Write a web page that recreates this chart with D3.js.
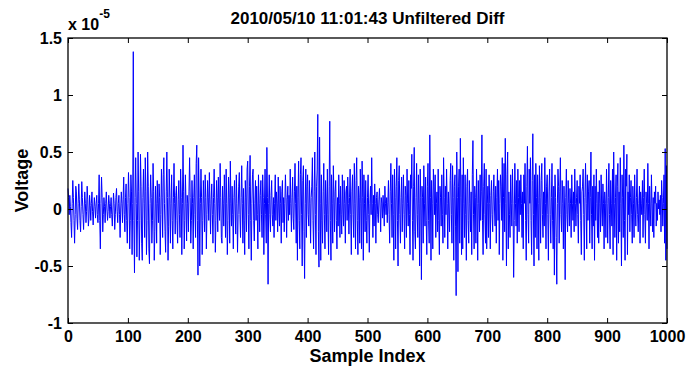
<!DOCTYPE html>
<html>
<head>
<meta charset="utf-8">
<script src="https://cdn.jsdelivr.net/npm/d3@7"></script>
<style>
  body { margin: 0; background: #fff; }
  svg { display: block; }
  text { font-family: "Liberation Sans", Arial, sans-serif; fill: #000; }
</style>
</head>
<body>
<div id="app"></div>
<script>
const W = 690, H = 374;

const titleText = '2010/05/10 11:01:43 Unfiltered Diff';
const xLabel = 'Sample Index';
const yLabel = 'Voltage';
const xTicks = [0, 100, 200, 300, 400, 500, 600, 700, 800, 900, 1000];
const yTicks = [-1, -0.5, 0, 0.5, 1, 1.5];

// voltage, in units of 1e-5, sample 0..1000
const voltage = [
  0.18, 0.10, -0.05, 0.12, 0.02, -0.12, -0.25, 0.05, 0.25, 0.10, -0.10, -0.30, -0.05, 0.20, 0.15, -0.08, -0.18, 0.05, 0.22, 0.08,
  -0.10, -0.20, 0.02, 0.24, 0.10, -0.05, -0.18, 0.00, 0.15, 0.05, -0.12, -0.02, 0.20, 0.08, -0.15, -0.08, 0.12, 0.03, -0.10, 0.05,
  0.15, -0.02, -0.14, 0.00, 0.10, 0.02, -0.08, 0.05, 0.12, -0.05, -0.12, 0.05, 0.30, -0.10, -0.35, 0.05, 0.28, 0.10, -0.20, -0.05,
  0.10, 0.02, -0.12, 0.05, 0.15, 0.00, -0.10, -0.02, 0.12, 0.05, -0.08, 0.02, 0.10, -0.05, -0.15, 0.00, 0.14, 0.05, -0.18, -0.05,
  0.10, 0.18, -0.02, -0.12, 0.05, 0.12, -0.05, -0.25, 0.00, 0.15, 0.05, -0.12, 0.08, 0.28, -0.05, -0.20, 0.10, 0.22, -0.10, -0.30,
  0.05, 0.32, 0.10, -0.35, -0.10, 0.30, 0.15, -0.40, 0.05, 1.38, -0.10, -0.56, 0.10, 0.45, 0.05, -0.42, -0.10, 0.50, 0.15, -0.45,
  -0.10, 0.48, 0.20, -0.30, -0.45, 0.10, 0.35, 0.05, -0.25, 0.45, 0.15, -0.40, -0.10, 0.50, 0.20, -0.35, -0.48, 0.05, 0.30, 0.10,
  -0.30, -0.10, 0.40, 0.15, -0.45, -0.20, 0.20, 0.05, -0.30, 0.25, 0.05, -0.12, 0.22, 0.10, -0.40, -0.05, 0.35, 0.10, -0.25, 0.30,
  0.45, 0.05, -0.20, -0.38, 0.15, 0.50, 0.10, -0.45, -0.15, 0.35, 0.10, -0.30, 0.05, 0.30, -0.10, -0.35, 0.10, 0.40, 0.05, -0.22,
  0.12, 0.20, -0.10, -0.30, 0.08, 0.25, -0.05, -0.25, 0.35, 0.10, -0.40, 0.05, 0.56, 0.15, -0.35, -0.10, 0.30, 0.05, -0.28, 0.12,
  0.05, -0.20, 0.15, 0.45, 0.10, -0.30, -0.10, 0.25, 0.05, -0.35, 0.10, 0.30, -0.05, -0.25, 0.40, 0.56, -0.10, -0.58, 0.45, 0.10,
  -0.50, 0.05, 0.35, 0.10, -0.40, -0.10, 0.25, 0.05, -0.20, 0.30, 0.10, -0.35, -0.05, 0.25, 0.10, -0.10, 0.32, 0.05, -0.22, 0.08,
  0.22, -0.05, -0.30, 0.10, 0.35, 0.05, -0.38, -0.10, 0.25, 0.10, -0.20, 0.28, 0.05, -0.10, 0.40, 0.10, -0.25, -0.30, 0.20, 0.05,
  -0.15, 0.30, 0.10, -0.25, 0.35, 0.05, -0.40, -0.10, 0.28, 0.10, -0.30, 0.42, 0.05, -0.15, 0.20, -0.05, -0.35, 0.10, 0.25, 0.00,
  -0.22, 0.30, 0.05, -0.38, -0.05, 0.20, 0.32, -0.05, -0.25, 0.10, 0.38, 0.05, -0.30, 0.18, -0.10, -0.40, 0.25, 0.10, -0.20, 0.35,
  0.42, -0.05, -0.35, 0.20, 0.47, -0.10, -0.45, 0.05, 0.30, 0.35, -0.10, -0.28, 0.05, 0.25, -0.10, 0.20, -0.05, -0.35, 0.30, 0.05,
  -0.20, 0.12, 0.25, -0.05, -0.25, 0.30, 0.10, -0.40, 0.05, 0.35, -0.05, -0.30, 0.54, 0.10, -0.66, 0.05, 0.30, -0.05, -0.20, 0.12,
  0.25, -0.05, -0.15, 0.10, -0.25, 0.05, 0.30, -0.10, 0.15, 0.05, -0.20, 0.28, 0.00, -0.15, 0.20, 0.05, -0.30, 0.15, 0.25, -0.12,
  0.10, -0.20, 0.05, 0.30, 0.10, -0.25, 0.08, 0.20, -0.10, 0.12, -0.05, 0.35, 0.05, -0.20, 0.10, 0.28, -0.08, -0.18, 0.15, 0.40,
  0.05, -0.30, 0.20, -0.45, 0.10, 0.42, -0.10, -0.35, 0.30, 0.45, -0.05, -0.50, 0.25, 0.38, -0.20, -0.61, 0.05, 0.35, -0.25, 0.20,
  0.30, -0.05, -0.15, 0.25, 0.05, -0.30, 0.10, 0.20, 0.45, -0.10, -0.35, 0.15, 0.50, -0.05, -0.40, 0.20, 0.35, 0.83, -0.20, -0.51,
  0.63, 0.05, -0.45, 0.30, -0.10, -0.30, 0.15, 0.40, -0.05, -0.35, 0.25, 0.05, -0.20, 0.35, -0.05, -0.40, 0.20, 0.77, -0.10, -0.45,
  0.30, 0.05, -0.30, 0.38, 0.10, -0.20, 0.15, 0.25, -0.10, -0.35, 0.10, -0.15, 0.30, 0.05, -0.25, 0.20, -0.05, -0.22, 0.30, 0.00,
  -0.15, 0.25, 0.05, -0.30, 0.15, 0.20, -0.10, 0.28, 0.05, -0.22, 0.10, 0.35, -0.05, -0.40, 0.15, 0.30, -0.05, -0.25, 0.40, 0.05,
  -0.35, 0.25, 0.45, -0.10, -0.40, 0.20, 0.10, -0.30, 0.35, 0.05, -0.35, 0.42, 0.10, -0.45, 0.30, 0.05, -0.20, 0.25, -0.10, -0.30,
  0.10, 0.30, -0.05, -0.38, 0.05, 0.20, -0.05, 0.45, 0.05, -0.25, 0.12, -0.15, 0.22, 0.05, -0.30, 0.10, 0.15, -0.05, -0.12, 0.08,
  0.18, 0.00, -0.20, 0.10, 0.05, -0.08, 0.12, 0.00, -0.15, 0.20, 0.05, -0.05, 0.10, -0.12, 0.06, 0.25, -0.05, -0.30, 0.15, 0.40,
  0.05, -0.25, 0.30, -0.05, -0.45, 0.35, 0.10, -0.35, 0.20, 0.45, -0.10, -0.50, 0.25, 0.38, -0.05, -0.30, 0.10, 0.28, -0.20, 0.05,
  0.30, -0.05, -0.35, 0.20, 0.12, -0.25, 0.35, 0.05, -0.15, 0.25, -0.05, -0.40, 0.30, 0.18, 0.48, -0.10, -0.45, 0.20, 0.54, -0.20,
  -0.35, 0.10, 0.40, -0.05, -0.25, 0.30, 0.05, -0.50, 0.35, 0.10, -0.62, 0.20, 0.10, -0.30, 0.38, 0.05, -0.15, 0.28, -0.10, -0.40,
  0.20, 0.40, -0.10, -0.30, 0.65, 0.10, -0.45, 0.25, 0.05, -0.35, 0.35, 0.20, -0.05, 0.30, -0.25, 0.05, 0.15, -0.20, 0.35, -0.10,
  -0.40, 0.20, 0.10, -0.15, 0.30, -0.05, -0.30, 0.45, 0.10, -0.25, 0.20, -0.05, 0.35, 0.05, -0.35, 0.15, 0.00, -0.20, 0.25, 0.40,
  -0.05, -0.30, 0.38, 0.10, -0.45, 0.20, 0.30, -0.15, -0.76, 0.50, 0.10, -0.55, 0.20, 0.35, -0.30, 0.62, 0.10, -0.40, 0.30, -0.35,
  0.45, 0.05, -0.25, 0.30, -0.05, -0.45, 0.20, 0.35, -0.10, -0.30, 0.25, 0.05, -0.20, 0.15, -0.40, 0.30, 0.60, -0.05, -0.35, 0.20,
  0.10, -0.30, 0.35, 0.05, -0.45, 0.25, 0.05, -0.20, 0.30, -0.10, 0.15, 0.65, -0.10, -0.40, 0.20, 0.40, -0.05, -0.30, 0.35, -0.35,
  0.05, 0.20, -0.25, 0.30, 0.05, -0.35, 0.12, 0.25, -0.05, -0.20, 0.15, 0.30, 0.00, -0.15, 0.20, -0.30, 0.10, 0.35, -0.10, 0.25,
  -0.40, 0.05, 0.30, 0.20, -0.10, 0.45, -0.45, 0.10, 0.40, -0.20, 0.62, 0.05, -0.50, 0.30, 0.50, -0.35, 0.15, -0.05, -0.25, 0.30,
  0.05, -0.15, 0.35, 0.05, -0.60, -0.10, 0.40, 0.05, -0.15, 0.25, -0.30, 0.35, 0.10, -0.20, 0.25, -0.05, 0.30, 0.05, -0.25, 0.15,
  -0.35, 0.30, 0.05, 0.40, -0.10, -0.45, 0.20, 0.55, -0.05, -0.30, 0.35, 0.05, 0.45, -0.10, -0.40, 0.25, 0.66, -0.05, -0.50, 0.30,
  -0.25, 0.40, 0.10, -0.35, 0.30, 0.05, -0.45, 0.38, 0.10, -0.30, 0.25, 0.40, -0.05, -0.25, 0.15, -0.15, 0.45, 0.05, -0.35, 0.20,
  0.30, -0.05, -0.45, 0.15, 0.35, -0.05, -0.30, 0.10, 0.40, -0.10, -0.35, 0.20, -0.58, 0.30, 0.10, -0.25, -0.66, 0.05, 0.35, 0.20,
  -0.30, 0.15, 0.45, -0.05, -0.20, 0.25, 0.05, -0.35, 0.20, 0.00, -0.62, 0.10, 0.35, -0.05, -0.20, 0.25, 0.05, -0.15, 0.18, 0.05,
  -0.25, 0.30, 0.05, -0.10, 0.15, -0.20, 0.35, 0.05, -0.15, 0.10, 0.25, -0.05, -0.30, 0.20, 0.05, 0.30, -0.10, -0.40, 0.15, 0.20,
  0.35, -0.05, -0.45, 0.10, 0.40, 0.05, -0.35, 0.30, -0.10, 0.15, 0.25, -0.30, 0.10, 0.50, -0.05, -0.35, 0.20, -0.15, 0.30, -0.45,
  0.20, -0.10, 0.35, 0.05, -0.25, 0.15, -0.30, 0.25, 0.05, -0.20, 0.30, 0.00, -0.15, 0.22, 0.05, -0.35, 0.15, 0.05, -0.25, 0.35,
  0.05, -0.30, 0.10, 0.40, -0.05, -0.35, 0.25, 0.05, -0.15, 0.35, -0.40, 0.50, 0.05, -0.25, 0.10, 0.30, -0.45, 0.20, 0.40, -0.30,
  0.15, -0.20, 0.45, 0.05, -0.50, 0.30, 0.10, -0.25, 0.56, -0.10, -0.45, 0.35, 0.20, 0.48, -0.40, 0.15, -0.05, 0.30, -0.20, 0.10,
  0.25, -0.05, -0.30, 0.20, 0.05, -0.25, 0.30, 0.00, -0.15, 0.10, 0.35, -0.05, -0.20, 0.05, 0.20, -0.30, 0.15, 0.05, -0.05, 0.25,
  -0.25, 0.10, 0.35, -0.05, -0.30, 0.15, 0.05, -0.10, 0.40, 0.05, -0.35, 0.20, 0.00, -0.15, 0.30, 0.05, -0.20, 0.10, -0.25, 0.15,
  0.05, 0.20, -0.15, 0.05, -0.10, 0.15, 0.00, 0.08, -0.05, 0.12, -0.20, 0.25, 0.10, -0.15, 0.05, 0.30, -0.30, 0.53, -0.45, 0.38,
  -0.35
];

const mLeft = 68, mRight = 667, mTop = 38, mBottom = 323;

let svg = d3.select('#app').append('svg')
  .attr('width', W)
  .attr('height', H)

let x = d3.scaleLinear().domain([0, 1000]).range([mLeft, mRight])
let y = d3.scaleLinear().domain([-1, 1.5]).range([mBottom, mTop])

// signal
svg.append('path')
  .datum(voltage)
  .attr('d', d3.line().x((d, i) => x(i)).y(d => y(d)))
  .attr('fill', 'none')
  .attr('stroke', '#0000ff')
  .attr('stroke-width', 1)

const fmt = d => String(d)

// inward ticks on all four sides
let gx = svg.append('g')
  .attr('transform', `translate(0,${mBottom})`)
  .call(d3.axisBottom(x).tickValues(xTicks).tickFormat(fmt).tickSizeInner(-5).tickSizeOuter(0).tickPadding(8))
let gy = svg.append('g')
  .attr('transform', `translate(${mLeft},0)`)
  .call(d3.axisLeft(y).tickValues(yTicks).tickFormat(fmt).tickSizeInner(-5).tickSizeOuter(0).tickPadding(6))
svg.append('g')
  .attr('transform', `translate(0,${mTop})`)
  .call(d3.axisTop(x).tickValues(xTicks).tickFormat('').tickSizeInner(-5).tickSizeOuter(0))
svg.append('g')
  .attr('transform', `translate(${mRight},0)`)
  .call(d3.axisRight(y).tickValues(yTicks).tickFormat('').tickSizeInner(-5).tickSizeOuter(0))

svg.selectAll('.domain').remove()
svg.selectAll('.tick line').attr('stroke', '#000').attr('stroke-width', 1)

gx.selectAll('text')
  .attr('font-size', 16).attr('font-weight', 'bold')
  .attr('font-family', '"Liberation Sans", Arial, sans-serif').attr('fill', '#000')
gy.selectAll('text')
  .attr('font-size', 16).attr('font-weight', 'bold')
  .attr('font-family', '"Liberation Sans", Arial, sans-serif').attr('fill', '#000')

// axes box
svg.append('rect')
  .attr('x', mLeft).attr('y', mTop)
  .attr('width', mRight - mLeft).attr('height', mBottom - mTop)
  .attr('fill', 'none').attr('stroke', '#000').attr('stroke-width', 1.3)

// title
svg.append('text')
  .attr('x', (mLeft + mRight) / 2).attr('y', 24)
  .attr('text-anchor', 'middle')
  .attr('font-size', 17).attr('font-weight', 'bold')
  .text(titleText)

// exponent
let ex = svg.append('text')
  .attr('x', mLeft).attr('y', 30)
  .attr('font-size', 16).attr('font-weight', 'bold')
ex.append('tspan').text('x 10')
ex.append('tspan').attr('font-size', 12).attr('dy', -12).text('-5')

svg.append('text')
  .attr('x', (mLeft + mRight) / 2).attr('y', 362)
  .attr('text-anchor', 'middle')
  .attr('font-size', 18).attr('font-weight', 'bold')
  .text(xLabel)

svg.append('text')
  .attr('transform', `translate(28,${(mTop + mBottom) / 2}) rotate(-90)`)
  .attr('text-anchor', 'middle')
  .attr('font-size', 18).attr('font-weight', 'bold')
  .text(yLabel)
</script>
</body>
</html>
